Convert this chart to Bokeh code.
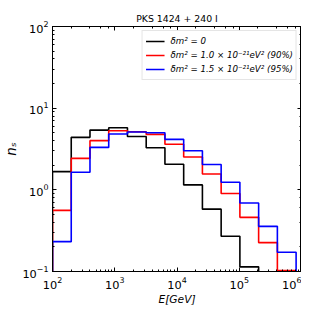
from bokeh.plotting import figure
from bokeh.models import LogAxis, Range1d, Legend, LegendItem, CustomJSTickFormatter
from bokeh.embed import file_html
from bokeh.resources import INLINE

# bin edges (GeV), factor-2 bins
edges = [100, 200, 400, 800, 1600, 3200, 6400, 12800, 25600, 51200, 102400, 204800, 409600, 819200]
ns_zero = [1.67, 4.39, 5.39, 5.75, 4.5, 3.28, 2.06, 1.15, 0.58, 0.27, 0.114, 0.0, 0.0]
ns_90 = [0.56, 2.43, 4.0, 5.28, 5.14, 4.77, 3.61, 2.52, 1.56, 0.90, 0.46, 0.226, 0.103]
ns_95 = [0.232, 1.64, 3.31, 4.82, 5.1, 5.0, 4.15, 3.01, 2.04, 1.24, 0.69, 0.357, 0.172]
labels = ["δm² = 0", "δm² = 1.0 × 10⁻²¹eV² (90%)", "δm² = 1.5 × 10⁻²¹eV² (95%)"]
colors = ["#000000", "#ff0000", "#0000ff"]

FLOOR = 1e-3


def step(vals):
    xs, ys = [edges[0]], [FLOOR]
    for i, v in enumerate(vals):
        v = v if v > 0 else FLOOR
        xs += [edges[i], edges[i + 1]]
        ys += [v, v]
    xs.append(edges[-1])
    ys.append(FLOOR)
    return xs, ys


p = figure(width=301, height=309, x_axis_type="log", y_axis_type="log",
           x_range=Range1d(100, 1e6), y_range=Range1d(0.1, 100),
           output_backend="svg", toolbar_location=None,
           min_border_left=52, min_border_right=0, min_border_top=26, min_border_bottom=38,
           title="PKS 1424 + 240 I")
p.title.align = "center"
p.title.text_font = "DejaVu Sans"
p.title.text_font_size = "7pt"
p.title.text_font_style = "normal"
p.title.text_color = "black"
p.title.standoff = 5

p.xgrid.visible = False
p.ygrid.visible = False
p.outline_line_color = "black"
p.outline_line_width = 1
p.background_fill_color = "white"
p.border_fill_color = "white"

items = []
for vals, lab, col in zip([ns_zero, ns_90, ns_95], labels, colors):
    xs, ys = step(vals)
    r = p.line(xs, ys, line_color=col, line_width=1.6)
    items.append(LegendItem(label=lab, renderers=[r]))

legend = Legend(items=items, location="top_right")
legend.label_text_font = "DejaVu Sans"
legend.label_text_font_style = "italic"
legend.label_text_font_size = "6.5pt"
legend.label_text_color = "black"
legend.glyph_width = 19
legend.glyph_height = 14
legend.spacing = 0
legend.padding = 3
legend.margin = 4
legend.label_height = 14
legend.label_standoff = 6
legend.border_line_color = "#cccccc"
legend.border_line_width = 1
legend.background_fill_alpha = 0.9
p.add_layout(legend)

for ax in [p.xaxis[0], p.yaxis[0]]:
    ax.major_tick_in = 4
    ax.major_tick_out = 0
    ax.minor_tick_in = 2
    ax.minor_tick_out = 0
    ax.axis_line_color = "black"
    ax.major_tick_line_color = "black"
    ax.minor_tick_line_color = "black"
    ax.major_label_text_font = "DejaVu Sans"
    ax.major_label_text_font_size = "8.5pt"
    ax.major_label_text_color = "black"
    ax.axis_label_text_font = "DejaVu Sans"
    ax.axis_label_text_font_style = "italic"
    ax.axis_label_text_font_size = "8pt"
    ax.axis_label_text_color = "black"

p.xaxis.axis_label = "E[GeV]"
p.yaxis.axis_label = "nₛ"
p.yaxis.axis_label_text_font_size = "10pt"
p.xaxis.major_label_standoff = 5
p.yaxis.major_label_standoff = 4
p.xaxis.axis_label_standoff = 1
p.yaxis.axis_label_standoff = 0

blank = CustomJSTickFormatter(code="return '';")
ra = LogAxis(formatter=blank)
ta = LogAxis(formatter=blank)
p.add_layout(ra, "right")
p.add_layout(ta, "above")
for ax in [ra, ta]:
    ax.major_tick_in = 4
    ax.major_tick_out = 0
    ax.minor_tick_in = 2
    ax.minor_tick_out = 0
    ax.major_tick_line_color = "black"
    ax.minor_tick_line_color = "black"
    ax.major_label_text_font_size = "1px"
    ax.major_label_standoff = 0
    ax.axis_line_color = "black"

open("out.html", "w").write(file_html(p, INLINE))
